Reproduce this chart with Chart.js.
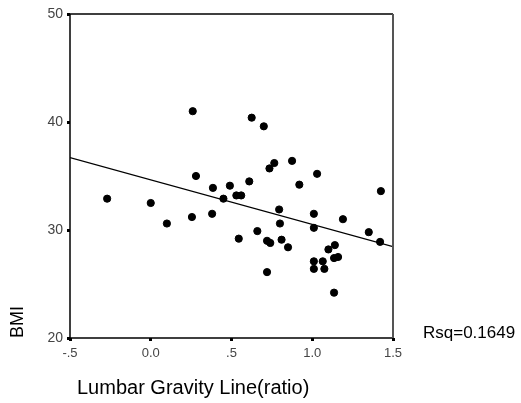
<!DOCTYPE html>
<html>
<head>
<meta charset="utf-8">
<script src="https://cdn.jsdelivr.net/npm/chart.js@4/dist/chart.umd.min.js"></script>
<style>
  html, body { margin: 0; padding: 0; background: #fff; }
  #wrap { width: 521px; height: 403px; }
</style>
</head>
<body>
<div id="wrap"><canvas id="c"></canvas></div>
<script>
// values
const lumbarRatio = [-0.27, 0.00, 0.10, 0.255, 0.38, 0.28, 0.385, 0.45, 0.49, 0.26,
  0.625, 0.70, 0.765, 0.735, 0.875, 1.03, 0.92, 0.61, 0.53, 0.56,
  0.795, 1.425, 1.01, 1.19, 0.80, 1.01, 0.545, 0.66, 0.72, 0.74,
  0.81, 0.85, 1.10, 1.14, 1.135, 1.16, 1.01, 1.065, 1.01, 1.075,
  0.72, 1.135, 1.35, 1.42];
const bmi = [32.9, 32.5, 30.6, 31.2, 31.5, 35.0, 33.9, 32.9, 34.1, 41.0,
  40.4, 39.6, 36.2, 35.7, 36.4, 35.2, 34.2, 34.5, 33.2, 33.2,
  31.9, 33.6, 31.5, 31.0, 30.6, 30.2, 29.2, 29.9, 29.0, 28.8,
  29.1, 28.4, 28.2, 28.6, 27.4, 27.5, 27.1, 27.1, 26.4, 26.4,
  26.1, 24.2, 29.8, 28.9];
const fitX = [-0.5, 1.5];
const fitY = [36.7, 28.45];
const xTicks = ['-.5', '0.0', '.5', '1.0', '1.5'];
const yTicks = [20, 30, 40, 50];
const rsqText = 'Rsq=0.1649';

const points = lumbarRatio.map((v, i) => ({ x: v, y: bmi[i] }));
const fitLine = fitX.map((v, i) => ({ x: v, y: fitY[i] }));

const frame = {
  id: 'frame',
  afterDraw(chart) {
    const { ctx, chartArea: a } = chart;
    ctx.save();
    ctx.strokeStyle = '#000';
    ctx.lineWidth = 1.5;
    ctx.beginPath();
    ctx.moveTo(a.right, a.top);
    ctx.lineTo(a.left, a.top);
    ctx.lineTo(a.left, a.bottom);
    ctx.lineTo(a.right, a.bottom);
    ctx.stroke();
    ctx.strokeStyle = '#555';
    ctx.lineWidth = 2;
    ctx.beginPath();
    ctx.moveTo(a.right, a.top);
    ctx.lineTo(a.right, a.bottom);
    ctx.stroke();

    ctx.fillStyle = '#000';
    ctx.textBaseline = 'middle';
    ctx.font = '20px "Liberation Sans", Arial, sans-serif';
    ctx.textAlign = 'left';
    ctx.fillText('Lumbar Gravity Line(ratio)', 77, 388);
    ctx.font = '17px "Liberation Sans", Arial, sans-serif';
    ctx.fillText(rsqText, 423, 333);
    ctx.translate(18, 322);
    ctx.rotate(-Math.PI / 2);
    ctx.textAlign = 'center';
    ctx.font = '18px "Liberation Sans", Arial, sans-serif';
    ctx.fillText('BMI', 0, 0);
    ctx.restore();
  }
};

new Chart(document.getElementById('c'), {
  type: 'scatter',
  data: {
    datasets: [
      {
        data: points,
        backgroundColor: '#000',
        borderColor: '#000',
        pointRadius: 3.6,
        pointHoverRadius: 3.6
      },
      {
        type: 'line',
        data: fitLine,
        borderColor: '#000',
        borderWidth: 1.2,
        pointRadius: 0,
        fill: false
      }
    ]
  },
  options: {
    responsive: true,
    maintainAspectRatio: false,
    animation: false,
    events: [],
    layout: { padding: { top: 14, right: 128, left: 0, bottom: 0 } },
    plugins: { legend: { display: false }, tooltip: { enabled: false } },
    scales: {
      x: {
        type: 'linear',
        min: -0.5,
        max: 1.5,
        afterBuildTicks(s) { s.ticks = xTicks.map((t, i) => ({ value: -0.5 + i * 0.5 })); },
        afterFit(s) { s.height = 65; },
        border: { display: false },
        grid: { drawOnChartArea: false, tickLength: 3, tickWidth: 3, color: '#000' },
        ticks: {
          color: '#444',
          padding: 5,
          maxRotation: 0,
          font: { size: 13, family: '"Liberation Sans", Arial, sans-serif' },
          callback: (v, i) => xTicks[i]
        }
      },
      y: {
        min: 20,
        max: 50,
        afterBuildTicks(s) { s.ticks = yTicks.map(v => ({ value: v })); },
        afterFit(s) { s.width = 70; },
        border: { display: false },
        grid: { drawOnChartArea: false, tickLength: 3, tickWidth: 3, color: '#000' },
        ticks: {
          color: '#444',
          padding: 4,
          font: { size: 14, family: '"Liberation Sans", Arial, sans-serif' }
        }
      }
    }
  },
  plugins: [frame]
});
</script>
</body>
</html>
